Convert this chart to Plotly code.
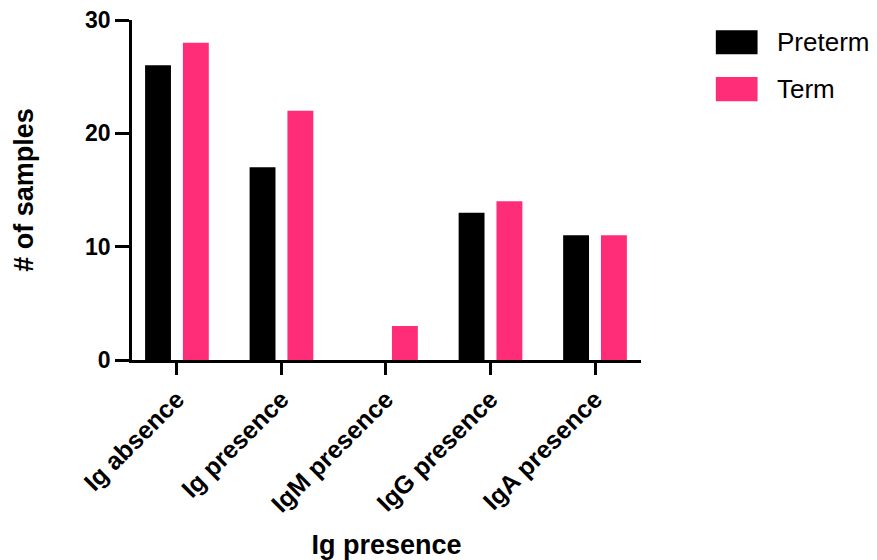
import plotly.graph_objects as go

# Sample counts per immunoglobulin category, split by birth outcome
categories = ["Ig absence", "Ig presence", "IgM presence", "IgG presence", "IgA presence"]
series_names = ["Preterm", "Term"]
preterm = [26, 17, 0, 13, 11]
term = [28, 22, 3, 14, 11]
y_ticks = [0, 10, 20, 30]

colors = ["#000000", "#FF2C78"]
values = [preterm, term]

FONT = "Liberation Sans, Arial, sans-serif"

fig = go.Figure()
for name, vals, col in zip(series_names, values, colors):
    fig.add_trace(go.Bar(
        x=categories, y=vals, name=name,
        marker=dict(color=col, line=dict(width=0)),
        showlegend=False,
    ))

# Legend drawn as large swatches with labels to the right of the plot
for i, (name, col) in enumerate(zip(series_names, colors)):
    y_top = 1.0 - 0.03 - i * 0.138
    fig.add_shape(type="rect", xref="paper", yref="paper",
                  x0=1.147, x1=1.229, y0=y_top - 0.071, y1=y_top,
                  fillcolor=col, line=dict(width=0))
    fig.add_annotation(xref="paper", yref="paper", x=1.263, y=y_top - 0.0355,
                       text=name, showarrow=False, xanchor="left", yanchor="middle",
                       font=dict(family=FONT, size=26, color="#000000"))

fig.update_layout(
    width=877, height=560,
    margin=dict(l=132, r=236, t=20, b=200),
    paper_bgcolor="white", plot_bgcolor="white",
    barmode="group", bargap=0.276, bargroupgap=0.316,
    font=dict(family=FONT, color="#000000"),
    xaxis=dict(
        range=[-0.43, 4.44],
        showline=True, linecolor="#000000", linewidth=2.5,
        ticks="outside", ticklen=12, tickwidth=2.5, tickcolor="#000000",
        tickangle=-45,
        tickfont=dict(family=FONT, size=25, weight="bold", color="#000000"),
        title=dict(text="Ig presence", standoff=22,
                   font=dict(family=FONT, size=27, weight="bold", color="#000000")),
        showgrid=False, zeroline=False, automargin=False,
    ),
    yaxis=dict(
        range=[0, 30], tickvals=y_ticks,
        showline=True, linecolor="#000000", linewidth=2.5,
        ticks="outside", ticklen=14, tickwidth=2.5, tickcolor="#000000",
        tickfont=dict(family=FONT, size=23, weight="bold", color="#000000"),
        title=dict(text="# of samples", standoff=44,
                   font=dict(family=FONT, size=27, weight="bold", color="#000000")),
        showgrid=False, zeroline=False, automargin=False,
    ),
)

fig.write_html("out.html")
